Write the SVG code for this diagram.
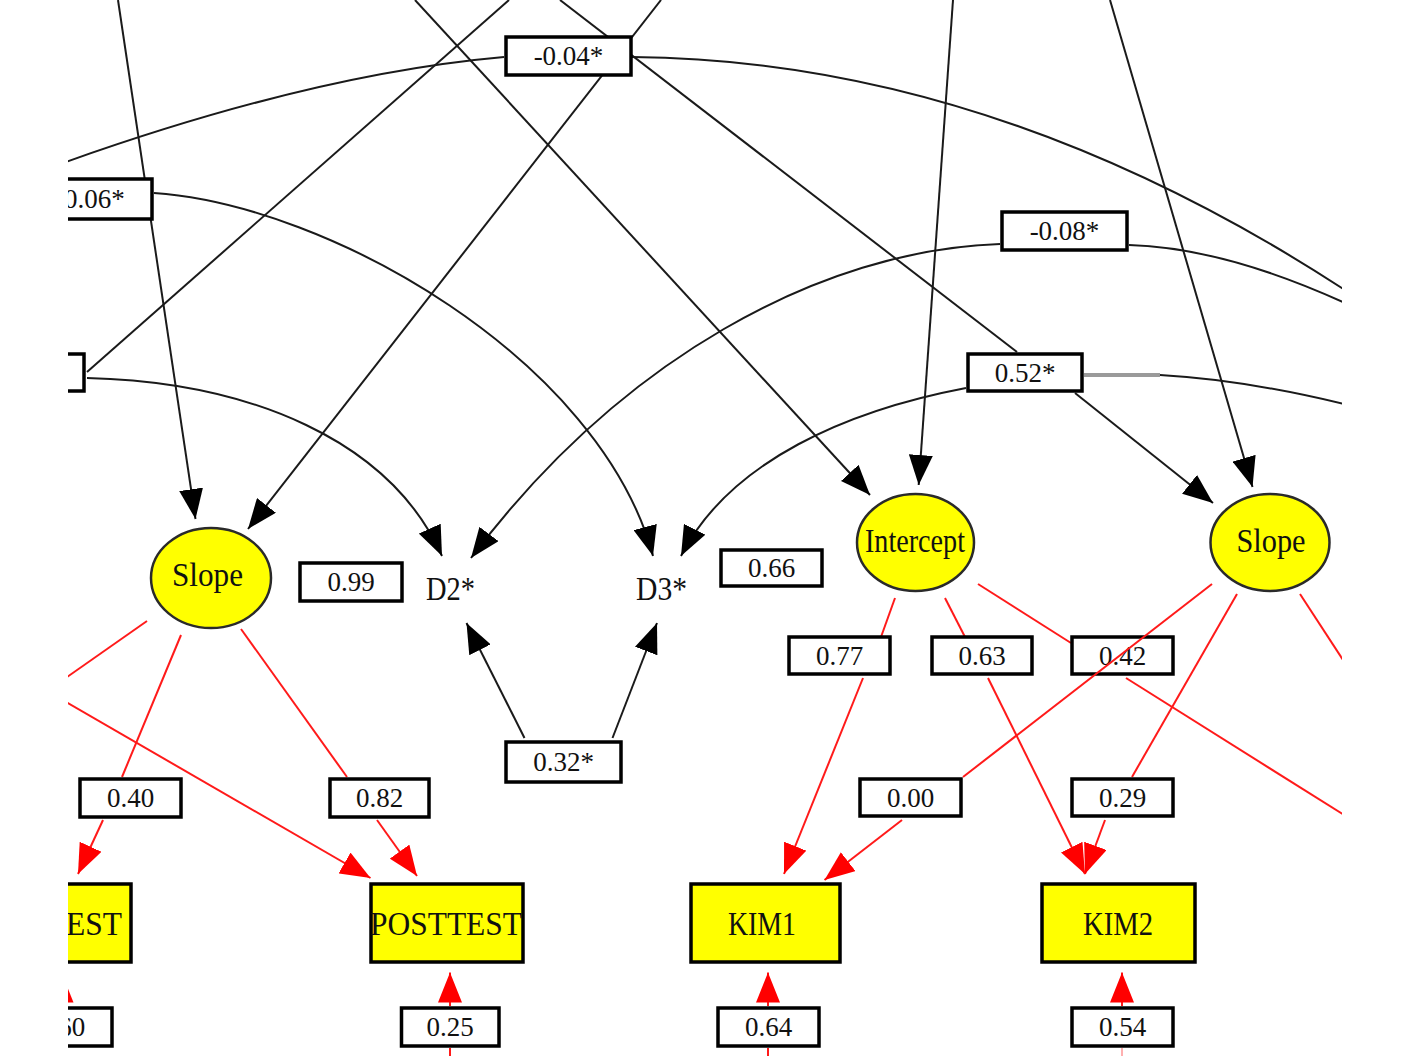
<svg xmlns="http://www.w3.org/2000/svg" width="1410" height="1056" viewBox="0 0 1410 1056">
<style>
.k{fill:none;stroke:#1a1a1a;stroke-width:2}
.r{fill:none;stroke:#ff1a1a;stroke-width:2}
.ka{marker-end:url(#ah)}
.ra{marker-end:url(#rh)}
.lb{fill:#fff;stroke:#000;stroke-width:3.5}
.lt{font-family:"Liberation Serif",serif;font-size:27px;fill:#111;text-anchor:middle}
.ov{fill:#ffff00;stroke:#2a2a2a;stroke-width:2.5}
.bx{fill:#ffff00;stroke:#000;stroke-width:3.5}
.nt{font-family:"Liberation Serif",serif;font-size:33px;fill:#111;text-anchor:middle}
</style>
<defs>
<clipPath id="cp"><rect x="68" y="0" width="1274" height="1056"/></clipPath>
<marker id="ah" viewBox="0 0 30 24" refX="30" refY="12" markerWidth="30" markerHeight="24" markerUnits="userSpaceOnUse" orient="auto"><path d="M0,0 L30,12 L0,24 z" fill="#000"/></marker>
<marker id="rh" viewBox="0 0 30 24" refX="30" refY="12" markerWidth="30" markerHeight="24" markerUnits="userSpaceOnUse" orient="auto"><path d="M0,0 L30,12 L0,24 z" fill="#ff0000"/></marker>
</defs>
<rect x="0" y="0" width="1410" height="1056" fill="#fff"/>
<g clip-path="url(#cp)">
<g id="connectors">
<path class="k ka" d="M118,0 L195.5,519"/>
<path class="k ka" d="M415,0 L870,495"/>
<path class="k" d="M509,0 L87,372"/>
<path class="k ka" d="M661,0 L248,529"/>
<path class="k" d="M560,0 L1017,352"/>
<path class="k ka" d="M1075,393 L1213,503"/>
<path class="k ka" d="M953,0 L918.7,485"/>
<path class="k ka" d="M1110,0 L1252.5,487"/>
<path class="k" d="M30,175 Q300,75 504,57"/>
<path class="k" d="M632,57 Q1000,60 1360,300"/>
<path class="k ka" d="M154,193 C330,205 600,360 653,556"/>
<path class="k ka" d="M87,378 C250,382 390,440 442,556"/>
<path class="k ka" d="M1000,244 C820,250 620,360 471,558"/>
<path class="k" d="M1129,245 Q1230,248 1360,310"/>
<path class="k ka" d="M966,388 C850,410 730,460 681,556"/>
<path fill="none" stroke="#9a9a9a" stroke-width="4" d="M1084,375 L1160,375"/>
<path class="k" d="M1160,375 Q1250,380 1360,408"/>
<path class="k ka" d="M524.5,738 L466.5,623"/>
<path class="k ka" d="M612.5,738 L657,623"/>
<path class="r" d="M147,621 L40,696"/>
<path class="r" d="M181,635 L122,777"/>
<path class="r ra" d="M103,820 L78,874"/>
<path class="r ra" d="M40,687 L370.5,878"/>
<path class="r" d="M241,629 L347,777"/>
<path class="r ra" d="M377,820 L417,876"/>
<path class="r ra" d="M450,1006 L450,972.5"/>
<path class="r" d="M450,1048 L450,1056"/>
<path class="r ra" d="M61.5,1006 L61.5,972.5"/>
<path class="r" d="M895,598 L881,637"/>
<path class="r ra" d="M863,678 L784,874"/>
<path class="r" d="M945,598 L965,637"/>
<path class="r ra" d="M988,678 L1085,874"/>
<path class="r" d="M978,584 L1071,643"/>
<path class="r" d="M1126,678 L1360,825"/>
<path class="r" d="M1237,594 L1132,777"/>
<path class="r ra" d="M1105,820 L1085,874"/>
<path class="r" d="M1300,594 L1360,686"/>
<path class="r ra" d="M768,1006 L768,972.5"/>
<path class="r" d="M768,1048 L768,1056"/>
<path class="r ra" d="M1122,1006 L1122,972.5"/>
<path fill="none" stroke="#ffb0b0" stroke-width="2" d="M1122,1048 L1122,1056"/>
<g id="edge-labels">
<rect class="lb" x="506" y="37" width="125" height="38"/><text class="lt" x="568.5" y="65">-0.04*</text>
<rect class="lb" x="28" y="179" width="124" height="40"/><text class="lt" x="90" y="208">-0.06*</text>
<rect class="lb" x="-20" y="354" width="104" height="37"/>
<rect class="lb" x="1002" y="212" width="125" height="38"/><text class="lt" x="1064.5" y="240">-0.08*</text>
<rect class="lb" x="968" y="354" width="114" height="37"/><text class="lt" x="1025" y="381.5">0.52*</text>
<rect class="lb" x="300" y="563" width="102" height="38"/><text class="lt" x="351" y="591">0.99</text>
<rect class="lb" x="721" y="550" width="101" height="36"/><text class="lt" x="771.5" y="577">0.66</text>
<rect class="lb" x="789" y="637" width="101" height="37"/><text class="lt" x="839.5" y="664.5">0.77</text>
<rect class="lb" x="932" y="637" width="100" height="37"/><text class="lt" x="982" y="664.5">0.63</text>
<rect class="lb" x="1072" y="637" width="101" height="37"/><text class="lt" x="1122.5" y="664.5">0.42</text>
<rect class="lb" x="506" y="742" width="115" height="40"/><text class="lt" x="563.5" y="771">0.32*</text>
<rect class="lb" x="80" y="779" width="101" height="38"/><text class="lt" x="130.5" y="807">0.40</text>
<rect class="lb" x="330" y="779" width="99" height="38"/><text class="lt" x="379.5" y="807">0.82</text>
<rect class="lb" x="860" y="779" width="101" height="37"/><text class="lt" x="910.5" y="806.5">0.00</text>
<rect class="lb" x="1072" y="779" width="101" height="37"/><text class="lt" x="1122.5" y="806.5">0.29</text>
<rect class="lb" x="11" y="1008" width="101" height="38"/><text class="lt" x="61.5" y="1036">0.60</text>
<rect class="lb" x="401.5" y="1008" width="97.5" height="38"/><text class="lt" x="450" y="1036">0.25</text>
<rect class="lb" x="718" y="1008" width="101" height="38"/><text class="lt" x="768.5" y="1036">0.64</text>
<rect class="lb" x="1072" y="1008" width="101" height="38"/><text class="lt" x="1122.5" y="1036">0.54</text>
</g>
<path class="r" d="M1212,584 L963,777"/>
<path class="r ra" d="M902,820 L824.5,880"/>
</g>
<g id="slope1"><ellipse class="ov" cx="211" cy="578" rx="60" ry="50"/><text class="nt" x="207.5" y="586" textLength="71" lengthAdjust="spacingAndGlyphs">Slope</text></g>
<g id="d2"><text class="nt" x="450.5" y="600" textLength="49" lengthAdjust="spacingAndGlyphs">D2*</text></g>
<g id="d3"><text class="nt" x="661.5" y="600" textLength="51" lengthAdjust="spacingAndGlyphs">D3*</text></g>
<g id="intercept"><ellipse class="ov" cx="915.5" cy="542.5" rx="58.5" ry="48.5"/><text class="nt" x="915" y="552" textLength="100" lengthAdjust="spacingAndGlyphs">Intercept</text></g>
<g id="slope2"><ellipse class="ov" cx="1270" cy="542.5" rx="59.5" ry="48.5"/><text class="nt" x="1271" y="552" textLength="69" lengthAdjust="spacingAndGlyphs">Slope</text></g>
<g id="pretest"><rect class="bx" x="-22" y="884" width="153" height="78"/><text class="nt" x="55.5" y="935" textLength="133" lengthAdjust="spacingAndGlyphs">PRETEST</text></g>
<g id="posttest"><rect class="bx" x="371" y="884" width="152" height="78"/><text class="nt" x="446" y="935" textLength="152" lengthAdjust="spacingAndGlyphs">POSTTEST</text></g>
<g id="kim1"><rect class="bx" x="691" y="884" width="149" height="78"/><text class="nt" x="762" y="935" textLength="68" lengthAdjust="spacingAndGlyphs">KIM1</text></g>
<g id="kim2"><rect class="bx" x="1042" y="884" width="153" height="78"/><text class="nt" x="1118" y="935" textLength="70" lengthAdjust="spacingAndGlyphs">KIM2</text></g>
</g>
</svg>
